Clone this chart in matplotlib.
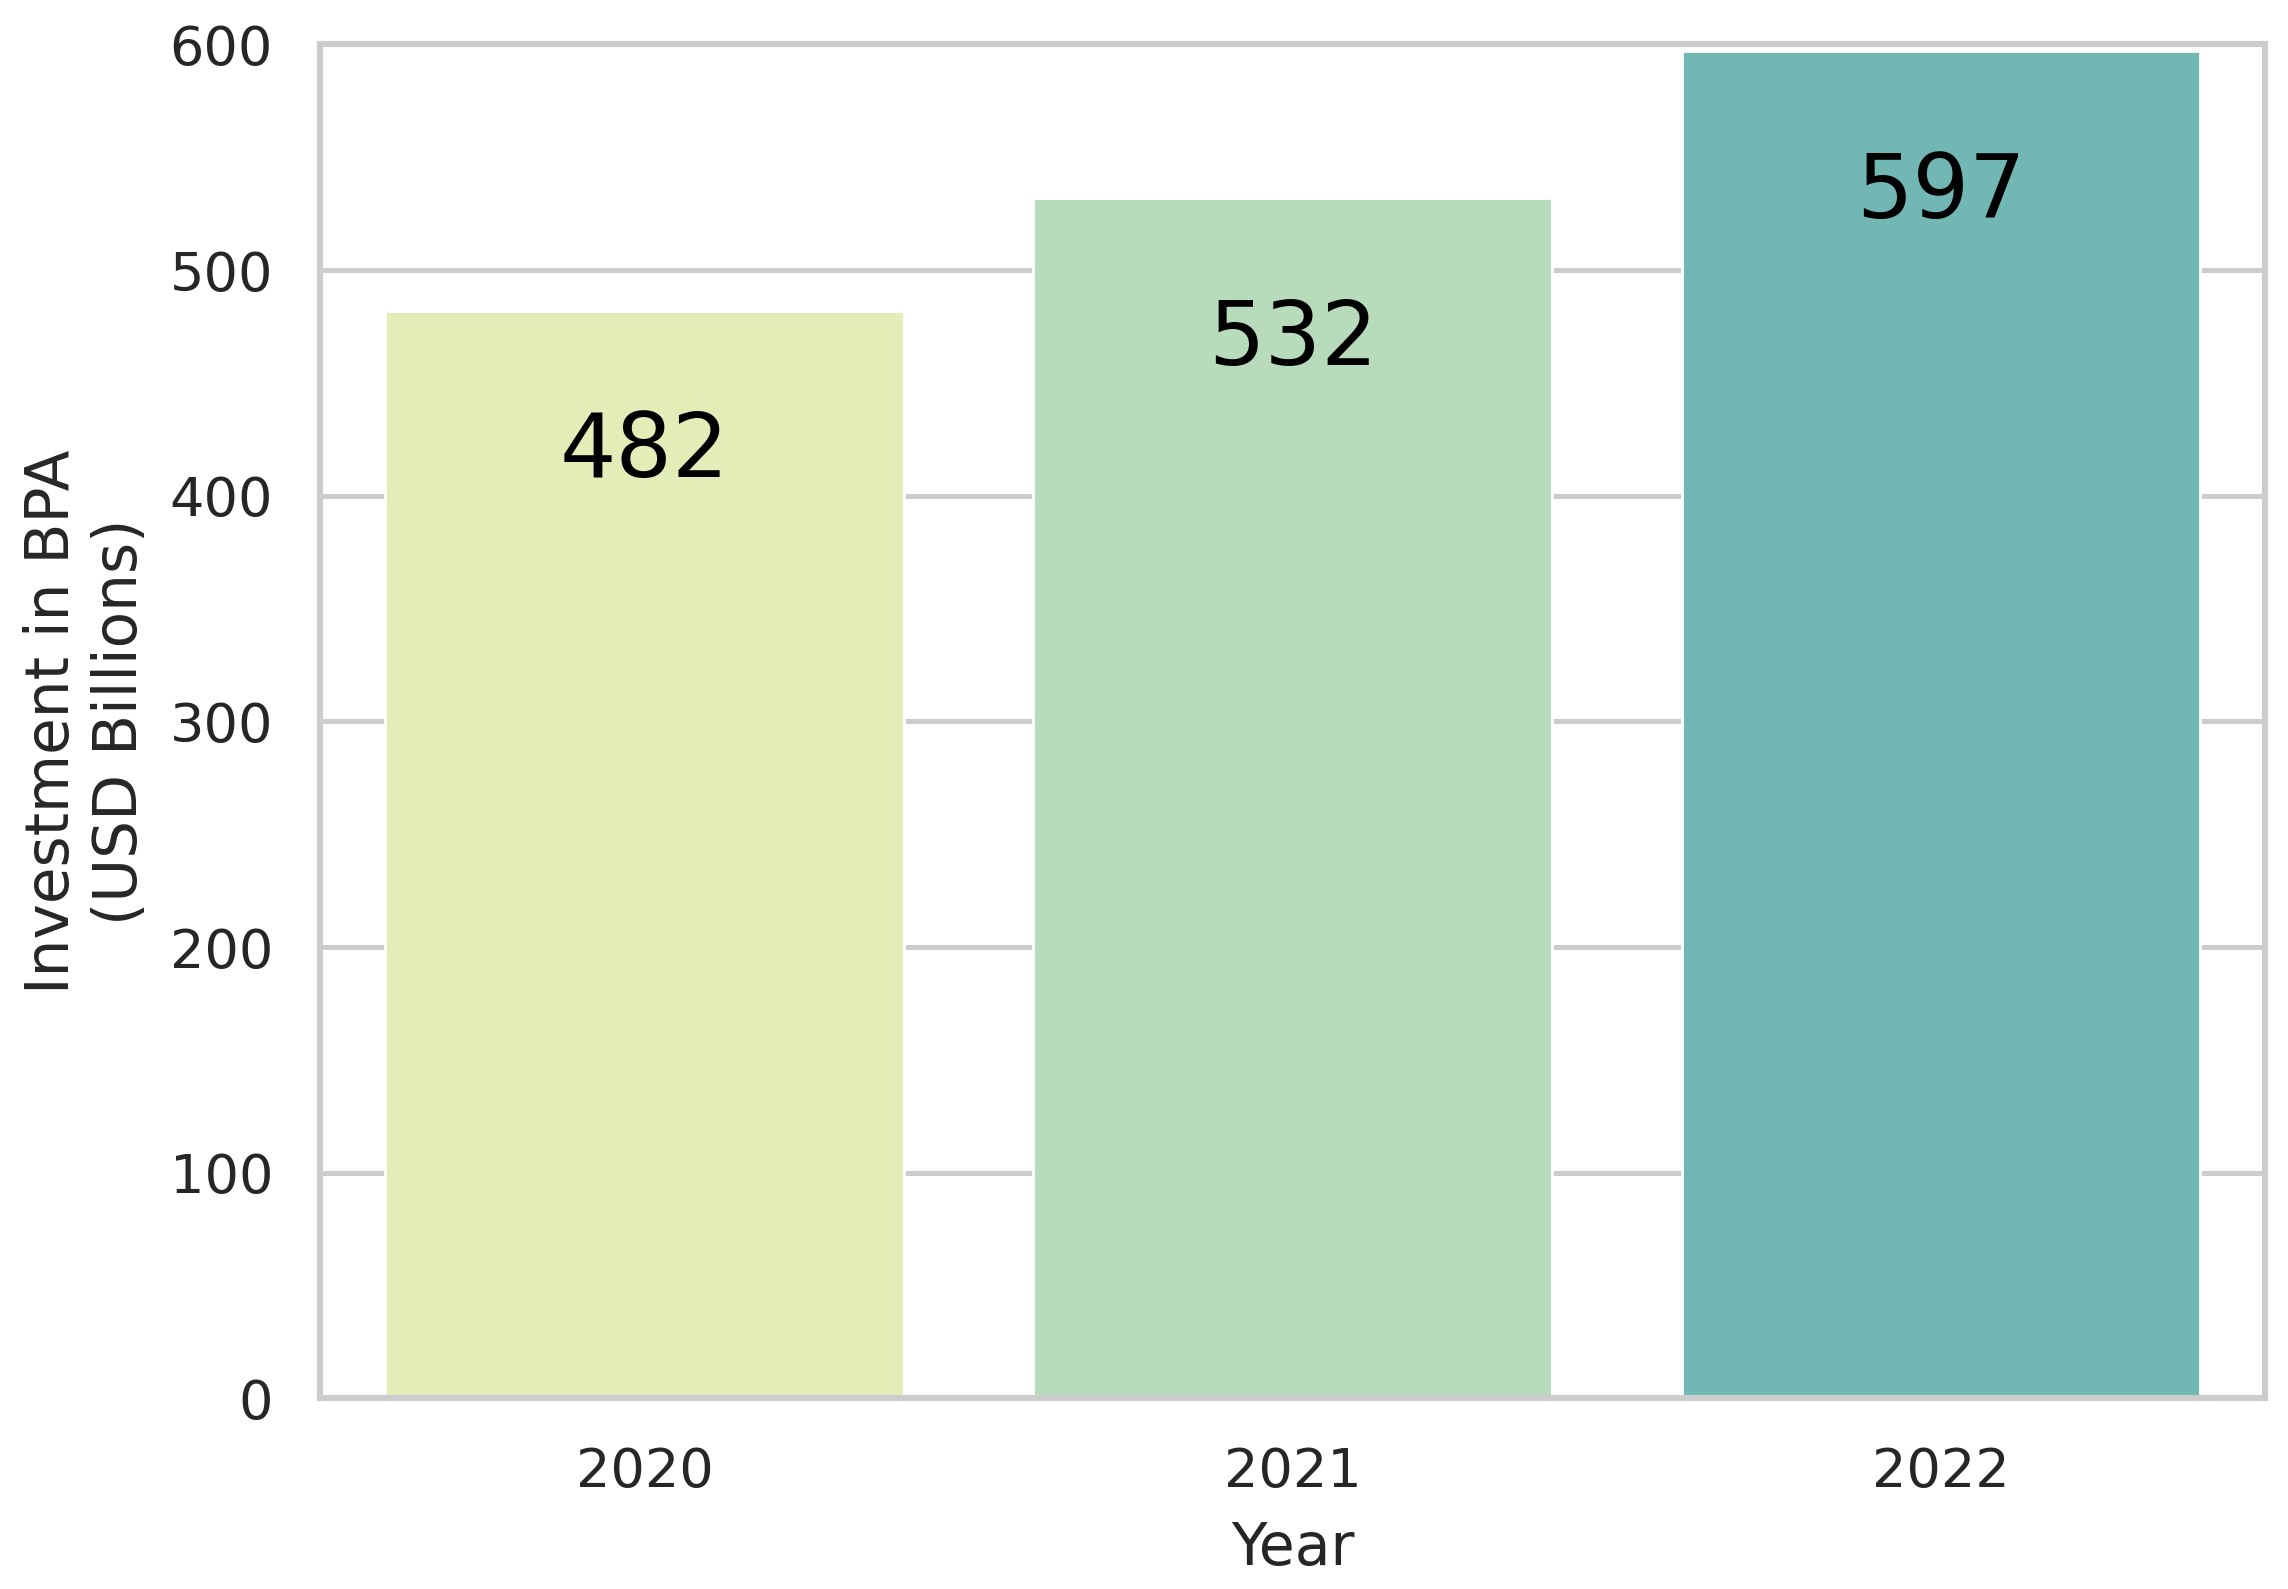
import matplotlib
matplotlib.use("Agg")
import matplotlib.pyplot as plt
import seaborn as sns

years = ["2020", "2021", "2022"]
investment = [482, 532, 597]
bar_colors = ["#e2edb8", "#b8dcbb", "#71b7b3"]

sns.set_theme(style="whitegrid")
plt.rcParams['font.family'] = ['DejaVu Sans']

fig, ax = plt.subplots(figsize=(11.44, 7.945), dpi=200)
ax.set_axisbelow(True)
bars = ax.bar(range(len(years)), investment, width=0.8, color=bar_colors, zorder=2)

# value labels sit inside the top of each bar
for i, v in enumerate(investment):
    ax.text(i, v - 63, str(v), ha="center", va="center", fontsize=32, color="black")

ax.set_xticks(range(len(years)))
ax.set_xticklabels(years)
ax.set_xlim(-0.5, 2.5)
ax.set_ylim(0, 600)
ax.tick_params(axis="both", labelsize=19.5, colors="#262626", pad=11)
ax.grid(axis="x", visible=False)
ax.grid(axis="y", color="#cccccc", linewidth=1.8)
for s in ax.spines.values():
    s.set_color("#cccccc")
    s.set_linewidth(2.2)
ax.set_xlabel("Year", fontsize=21, color="#262626", labelpad=8)
ax.set_ylabel("Investment in BPA\n(USD Billions)", fontsize=21.5, color="#262626", labelpad=7)

fig.subplots_adjust(left=0.14, right=0.99, top=0.972, bottom=0.12)
fig.savefig("out.png", dpi=200)
